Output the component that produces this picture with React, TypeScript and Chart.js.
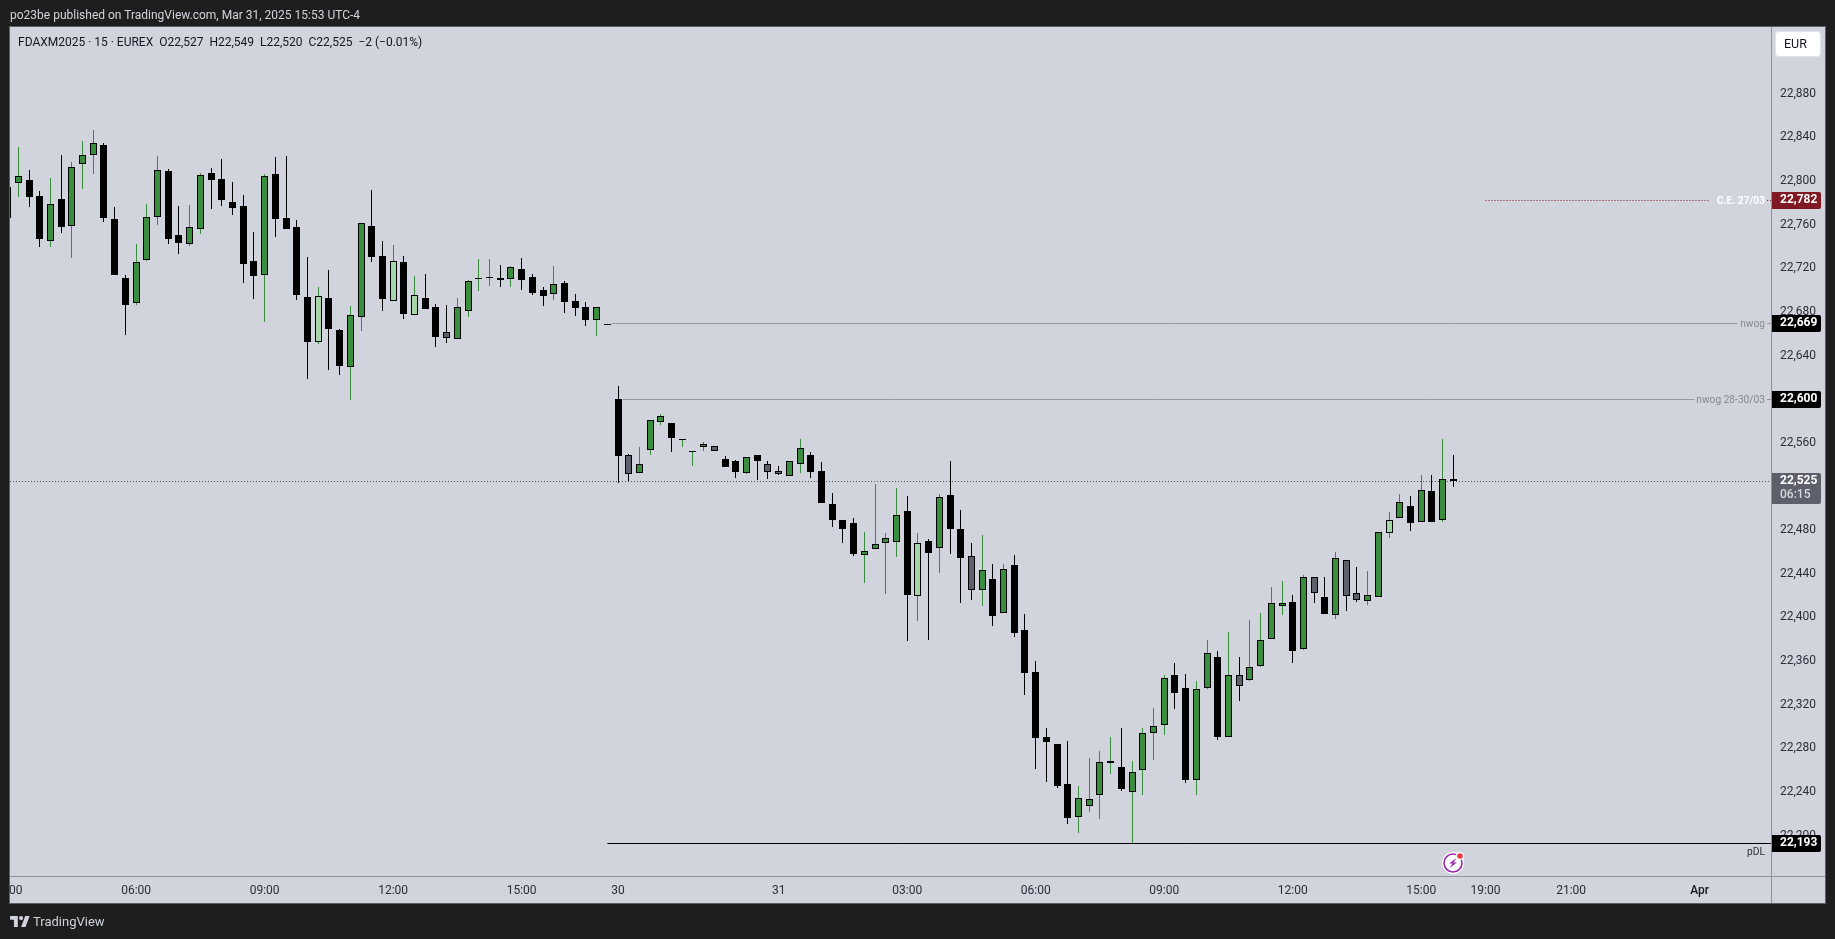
import React, { useEffect, useRef } from "react";
import { Chart, registerables } from "chart.js";

Chart.register(...registerables);

// Candle kind: k black, g green, l light green, s slate
const kindList: string[] = [
  "k","g","k","k","g","k","g","g","g","k","k","k","g","g","g","k","k","g","g","k",
  "k","k","k","k","g","k","k","k","k","l","k","k","g","g","k","k","l","k","l","k",
  "k","s","g","g","g","g","k","g","k","k","k","g","k","k","k","g","k","k","s","g",
  "g","g","k","g","g","g","s","k","k","g","k","s","s","g","g","k","k","k","k","k",
  "g","g","g","g","k","l","k","g","k","k","s","g","k","g","k","k","k","k","k","k",
  "g","g","g","g","k","g","g","g","g","k","k","g","g","k","g","s","g","g","g","g",
  "k","g","s","k","g","s","s","g","g","l","g","k","g","k","g","s",
];

const opens: number[] = [
  22795,22798,22801,22786,22745,22784,22759,22816,22824,22833,22765,22711,22688.5,22728,22767.5,22809,22751,22742,22756,22807.4,
  22802,22781,22777,22727,22714,22806.5,22766,22758,22694,22652.5,22693,22663.5,22629.6,22675.7,22759,22731,22690.4,22726,22677.6,22693,
  22684.6,22662,22655.6,22681,22710,22711,22711,22710.6,22719.4,22712,22700,22696.5,22706.6,22690,22684.6,22672.7,22668.7,22600,22549,22532.7,
  22553.5,22579,22578,22563,22552,22556.5,22556.8,22545.2,22543.4,22532.7,22549,22540.3,22534,22530,22541,22549,22534.2,22504,22489.3,22486.6,
  22457.2,22462.7,22468.2,22469.2,22497.6,22419.7,22470,22463.7,22512.2,22481,22456.3,22425,22435.2,22404.1,22448,22388.5,22350,22290.4,22284,22247.4,
  22217.4,22227.5,22237.3,22267,22263,22240.3,22260.5,22294.4,22301.8,22347.3,22335.4,22251.3,22335.7,22363.8,22290.8,22347,22343,22355.8,22380.6,22410.8,
  22414.2,22371.4,22436.8,22418.5,22402.6,22452.4,22422.1,22415.4,22419,22477.7,22491.5,22502.2,22487.8,22516,22489.7,22527,
];
const highs: number[] = [
  22795,22831,22810,22791,22803,22824,22817.5,22837,22847,22835,22776,22714,22742,22779,22823,22811,22777,22778,22807.4,22812,
  22820,22799,22787,22753,22806.5,22822,22823,22764,22730,22703,22718.5,22664.4,22685.5,22761.3,22792,22745,22741.4,22731,22713,22715,
  22687.4,22686.4,22693,22709.4,22728.6,22728.6,22723,22722,22729.5,22715,22703,22722,22708.4,22696.5,22689,22685,22668.7,22612,22549.8,22556,
  22580.7,22586.5,22578,22564,22553,22560.8,22556.8,22548,22544.3,22546.8,22549,22543.4,22538.8,22543,22563.6,22551.6,22542.5,22514,22489.3,22491,
  22478.3,22522.3,22477.4,22518.7,22511.3,22477.4,22472,22513.2,22543.4,22498.5,22468.2,22475.6,22449,22449,22457.2,22403.2,22360,22298.7,22284,22286.8,
  22245.5,22271.2,22277.6,22290.4,22298.7,22268.5,22298.7,22317,22347.3,22358.3,22348.2,22341.8,22379.4,22369.3,22386.7,22363.8,22397.7,22404.1,22428,22433.4,
  22420.6,22438.9,22436.8,22437,22460,22452.4,22446.3,22442.6,22478.4,22496.7,22513.2,22511.3,22530.6,22530.6,22563.6,22549,
];
const lows: number[] = [
  22766,22785,22776,22740,22740,22752,22729.5,22793,22806.5,22762.5,22714,22659,22686.5,22727,22760,22742,22733,22740.5,22751.5,22774.4,
  22777,22769,22706.6,22692,22671,22749,22756,22691,22618.6,22650.7,22627,22622,22599.4,22662.6,22726,22681,22690.4,22673.6,22677.6,22683,
  22648,22651.6,22655.6,22675.4,22699,22704,22703,22703,22700,22695.6,22685.5,22691,22679,22676.4,22667.2,22658,22667.7,22523.2,22525,22532.7,
  22549,22576.4,22551.6,22556,22538.8,22552.6,22552.9,22538,22527.8,22531.5,22526,22526.9,22530.6,22530,22532.4,22527.8,22505,22483,22468.2,22456.3,
  22431.6,22462.7,22421.5,22455.4,22378.4,22396.8,22379.3,22440.7,22458.2,22413.3,22416,22410.5,22392,22404.1,22382.1,22329,22261,22249.2,22243.7,22210.7,
  22202.5,22221.7,22215.3,22256.5,22241,22193,22237.3,22269.4,22292.3,22316.1,22248.3,22237.3,22334.4,22287.7,22290.8,22323.4,22341.8,22354.6,22380.6,22402.3,
  22358.3,22370.2,22413.3,22403.2,22398.6,22406,22414.2,22411.4,22419,22472.9,22491.5,22479.3,22487.8,22487.5,22487.8,22520,
];
const closes: number[] = [
  22766,22805,22785,22747,22779,22758,22813,22824,22835,22766,22714,22686.5,22725.5,22767,22810,22747,22743,22757.6,22806,22801,
  22782.7,22775,22724,22713,22805,22765,22756,22695.6,22652.5,22695,22664.4,22630.5,22677,22761.3,22730.4,22692,22726.5,22678,22695.3,22683,
  22657,22656,22684.3,22708,22711,22712,22709.6,22721,22709.4,22697.4,22694.7,22706,22689,22683.7,22672.7,22685,22667.7,22548,22531.5,22540.6,
  22580.7,22584.6,22564.5,22564,22553,22558.7,22552.9,22538,22533.3,22546.8,22543.4,22533.6,22531.8,22543,22555,22533.3,22505,22489.3,22481,22458.2,
  22461,22467.3,22472.8,22494,22420.6,22468,22459,22510.4,22481,22454.5,22425,22443.5,22401.3,22444.4,22385.8,22349,22289.5,22285.9,22245.5,22216.2,
  22234.2,22233.3,22267.2,22268.4,22242.8,22258,22293.8,22300.2,22344.2,22330.8,22251,22334.1,22367.1,22290.4,22347,22337.5,22354.3,22379,22413,22413,
  22369.3,22436.8,22422.7,22403.2,22454.2,22420,22416.3,22420.3,22478.4,22489,22505.5,22487,22516.5,22487.5,22526.6,22525,
];

const priceMin = 22163;
const priceMax = 22941.2;
const barMin = 0.224;
const barMax = 164.66;

const timeTickBars = [0.75, 12, 24, 36, 48, 57, 72, 84, 96, 108, 120, 132, 138, 146, 158];
const timeTickLabels = ["00", "06:00", "09:00", "12:00", "15:00", "30", "31", "03:00", "06:00", "09:00", "12:00", "15:00", "19:00", "21:00", "Apr"];
const strongTimeLabels = ["Apr"];

const levelValues = [22782, 22669, 22600, 22525, 22193];
const levelLabels = ["22,782", "22,669", "22,600", "22,525", "22,193"];
const levelSpans: number[][][] = [
  [[138, 159], [164.3, 164.66]],
  [[56.4, 161.5], [164.3, 164.66]],
  [[57.4, 157.5], [164.3, 164.66]],
  [[0.224, 164.66]],
  [[56, 164.66]],
];
const levelLineColors = ["#801922", "#9598a1", "#9598a1", "#50535e", "#000000"];
const levelDashes = [[1, 2], [], [], [1, 2], []];
const levelBadgeColors = ["#801922", "#000000", "#000000", "#5d606b", "#000000"];
const levelNotes = ["C.E. 27/03", "nwog", "nwog 28-30/03", "", "pDL"];
const levelNoteColors = ["#ffffff", "#868993", "#868993", "", "#2a2e39"];
const countdown = "06:15";

const bodyColors: Record<string, string> = { k: "#000000", g: "#388e3c", l: "#a5d6a7", s: "#5d606b" };
const wickColors: Record<string, string> = { k: "#000000", g: "#388e3c", l: "#388e3c", s: "#000000" };

const FONT = "Roboto, sans-serif";
const PANE = { left: 10, top: 27, right: 1825, bottom: 903, axisX: 1771, axisY: 876 };

function roundedRight(ctx: CanvasRenderingContext2D, x: number, y: number, w: number, h: number, r: number) {
  ctx.beginPath();
  ctx.moveTo(x, y);
  ctx.lineTo(x + w - r, y);
  ctx.arcTo(x + w, y, x + w, y + r, r);
  ctx.lineTo(x + w, y + h - r);
  ctx.arcTo(x + w, y + h, x + w - r, y + h, r);
  ctx.lineTo(x, y + h);
  ctx.closePath();
}

const panePlugin = {
  id: "pane",
  beforeDraw(chart: any) {
    const ctx: CanvasRenderingContext2D = chart.ctx;
    ctx.save();
    ctx.fillStyle = "#d1d4dc";
    ctx.fillRect(PANE.left, PANE.top, PANE.right - PANE.left, PANE.bottom - PANE.top);
    ctx.fillStyle = "#5d5f66";
    ctx.fillRect(PANE.left - 1, PANE.top - 1, PANE.right - PANE.left + 2, 1);
    ctx.fillRect(PANE.left - 1, PANE.bottom, PANE.right - PANE.left + 2, 1);
    ctx.fillRect(PANE.left - 1, PANE.top, 1, PANE.bottom - PANE.top);
    ctx.fillRect(PANE.right, PANE.top, 1, PANE.bottom - PANE.top);
    ctx.fillStyle = "#8f929a";
    ctx.fillRect(PANE.axisX, PANE.top, 1, PANE.bottom - PANE.top);
    ctx.fillRect(PANE.left, PANE.axisY, PANE.right - PANE.left, 1);
    ctx.restore();
  },
};

const snapPlugin = {
  id: "snap",
  afterDatasetsUpdate(chart: any) {
    chart.data.datasets.forEach((ds: any, di: number) => {
      const elements = chart.getDatasetMeta(di).data;
      if (ds.type === "line") {
        elements.forEach((el: any) => {
          el.y = Math.floor(el.y) + 0.5;
        });
        return;
      }
      elements.forEach((el: any) => {
        el.x = Math.round(el.x - 0.5) + 0.5;
        el.y = Math.round(el.y);
        el.base = Math.round(el.base);
        if (el.y === el.base) el.base = el.y + 1;
      });
    });
  },
};

const overlayPlugin = {
  id: "overlay",
  afterDraw(chart: any) {
    const ctx: CanvasRenderingContext2D = chart.ctx;
    const y = chart.scales.y;
    const x = chart.scales.x;
    ctx.save();
    levelValues.forEach((value, i) => {
      const py = Math.floor(y.getPixelForValue(value));
      const tall = levelLabels[i] === "22,525";
      const top = py - 8;
      const h = tall ? 31 : 17;
      ctx.fillStyle = levelBadgeColors[i];
      roundedRight(ctx, PANE.axisX + 1, top, 49, h, 2);
      ctx.fill();
      ctx.font = `700 12px ${FONT}`;
      ctx.fillStyle = "#ffffff";
      ctx.textAlign = "left";
      ctx.textBaseline = "middle";
      ctx.fillText(levelLabels[i], PANE.axisX + 9, top + 8);
      if (tall) {
        ctx.font = `500 12px ${FONT}`;
        ctx.fillStyle = "#d6d8de";
        ctx.fillText(countdown, PANE.axisX + 9, top + 22);
      }
      if (levelNotes[i]) {
        ctx.font = `${levelNotes[i] === "C.E. 27/03" ? "700 " : ""}10.2px ${FONT}`;
        ctx.fillStyle = levelNoteColors[i];
        ctx.textAlign = "right";
        const below = levelNotes[i] === "pDL";
        ctx.fillText(levelNotes[i], PANE.axisX - 6, below ? py + 9 : py + 1);
      }
    });

    // EUR currency button
    ctx.fillStyle = "#ffffff";
    ctx.strokeStyle = "#e0e3eb";
    ctx.beginPath();
    ctx.roundRect(PANE.axisX + 4.5, 31.5, 45, 25, 3);
    ctx.fill();
    ctx.stroke();
    ctx.fillStyle = "#131722";
    ctx.font = `12.5px ${FONT}`;
    ctx.textAlign = "left";
    ctx.textBaseline = "middle";
    ctx.fillText("EUR", PANE.axisX + 13, 44.5);

    // Lightning badge under the last candle
    const bx = Math.round(x.getPixelForValue(opens.length - 1));
    const by = 863;
    ctx.beginPath();
    ctx.arc(bx, by, 11, 0, Math.PI * 2);
    ctx.fillStyle = "#ffffff";
    ctx.fill();
    ctx.beginPath();
    ctx.arc(bx, by, 9, 0, Math.PI * 2);
    ctx.strokeStyle = "#9c27b0";
    ctx.lineWidth = 1.6;
    ctx.stroke();
    ctx.beginPath();
    ctx.moveTo(bx + 3.5, by - 5);
    ctx.lineTo(bx - 4, by + 0.5);
    ctx.lineTo(bx - 0.5, by + 0.5);
    ctx.lineTo(bx - 3.5, by + 5);
    ctx.lineTo(bx + 4, by - 0.5);
    ctx.lineTo(bx + 0.5, by - 0.5);
    ctx.closePath();
    ctx.fillStyle = "#9c27b0";
    ctx.fill();
    ctx.beginPath();
    ctx.arc(bx + 7, by - 7, 4, 0, Math.PI * 2);
    ctx.fillStyle = "#ffffff";
    ctx.fill();
    ctx.beginPath();
    ctx.arc(bx + 7, by - 7, 2.8, 0, Math.PI * 2);
    ctx.fillStyle = "#f23645";
    ctx.fill();
    ctx.restore();
  },
};

export default function App() {
  const ref = useRef<HTMLCanvasElement>(null);

  useEffect(() => {
    const bars = opens.map((_, i) => i);
    const lineSets: any[] = [];
    levelValues.forEach((value, i) => {
      levelSpans[i].forEach(([from, to]) => {
        lineSets.push({
          type: "line",
          data: [{ x: from, y: value }, { x: to, y: value }],
          borderColor: levelLineColors[i],
          borderWidth: 1,
          borderDash: levelDashes[i],
          pointRadius: 0,
          order: 3,
        });
      });
    });

    const chart = new Chart(ref.current as HTMLCanvasElement, {
      type: "bar",
      data: {
        datasets: [
          ...lineSets,
          {
            type: "bar",
            data: bars.map((i) => ({ x: i, y: [lows[i], highs[i]] })),
            backgroundColor: bars.map((i) => wickColors[kindList[i]]),
            barThickness: 1,
            grouped: false,
            inflateAmount: 0,
            borderWidth: 0,
            order: 2,
          },
          {
            type: "bar",
            data: bars.map((i) => ({ x: i, y: [opens[i], closes[i]] })),
            backgroundColor: bars.map((i) => bodyColors[kindList[i]]),
            borderColor: "#000000",
            borderWidth: 1,
            borderSkipped: false,
            barThickness: 7,
            grouped: false,
            inflateAmount: 0,
            order: 1,
          },
        ] as any,
      },
      plugins: [panePlugin, snapPlugin, overlayPlugin] as any,
      options: {
        animation: false,
        responsive: false,
        devicePixelRatio: 1,
        layout: {
          autoPadding: false,
          padding: { left: PANE.left, top: PANE.top, right: 1835 - PANE.right, bottom: 939 - PANE.bottom },
        },
        plugins: { legend: { display: false }, tooltip: { enabled: false }, title: { display: false } },
        scales: {
          x: {
            type: "linear",
            min: barMin,
            max: barMax,
            offset: false,
            grid: { display: false, drawTicks: false, offset: false },
            border: { display: false },
            afterFit(s: any) { s.height = PANE.bottom - PANE.axisY; s.paddingLeft = 0; s.paddingRight = 0; },
            afterBuildTicks(s: any) { s.ticks = timeTickBars.map((value) => ({ value })); },
            ticks: {
              autoSkip: false,
              maxRotation: 0,
              padding: 8,
              color: (c: any) => (strongTimeLabels.includes(c.tick?.label) ? "#131722" : "#2a2e39"),
              font: (c: any) => ({ family: FONT, size: 12, weight: strongTimeLabels.includes(c.tick?.label) ? "500" : "400" }),
              callback: (_v: any, i: number) => timeTickLabels[i],
            },
          },
          y: {
            type: "linear",
            position: "right",
            min: priceMin,
            max: priceMax,
            grid: { display: false, drawTicks: false },
            border: { display: false },
            afterFit(s: any) { s.width = PANE.right - PANE.axisX; s.paddingTop = 0; s.paddingBottom = 0; },
            ticks: {
              stepSize: 40,
              includeBounds: false,
              padding: 9,
              color: "#2a2e39",
              font: { family: FONT, size: 12 },
              callback: (v: any) => Number(v).toLocaleString("en-US"),
            },
          },
        },
      } as any,
    });
    return () => chart.destroy();
  }, []);

  const textBase: React.CSSProperties = { position: "absolute", whiteSpace: "pre", fontFamily: FONT };
  return (
    <div style={{ position: "absolute", left: 0, top: 0, width: 1835, height: 939, background: "#1e1e1e", overflow: "hidden" }}>
      <canvas ref={ref} width={1835} height={939} style={{ position: "absolute", left: 0, top: 0, display: "block" }} />
      <div style={{ ...textBase, left: 10, top: 7, fontSize: 12, lineHeight: "16px", color: "#d1d4dc" }}>
        po23be published on TradingView.com, Mar 31, 2025 15:53 UTC-4
      </div>
      <div style={{ ...textBase, left: 18, top: 34, fontSize: 12, lineHeight: "16px", color: "#131722" }}>
        {"FDAXM2025 · 15 · EUREX  O22,527  H22,549  L22,520  C22,525  −2 (−0.01%)"}
      </div>
      <svg style={{ position: "absolute", left: 10, top: 916 }} width="20" height="11" viewBox="0 0 36 20">
        <path fill="#d1d4dc" d="M14 20H7V7H0V0h14v20zM28 20h-8l7.5-20h8L28 20z" />
        <circle fill="#d1d4dc" cx="20" cy="3.8" r="3.8" />
      </svg>
      <div style={{ ...textBase, left: 33, top: 913, fontSize: 13, lineHeight: "18px", color: "#d1d4dc" }}>TradingView</div>
    </div>
  );
}
